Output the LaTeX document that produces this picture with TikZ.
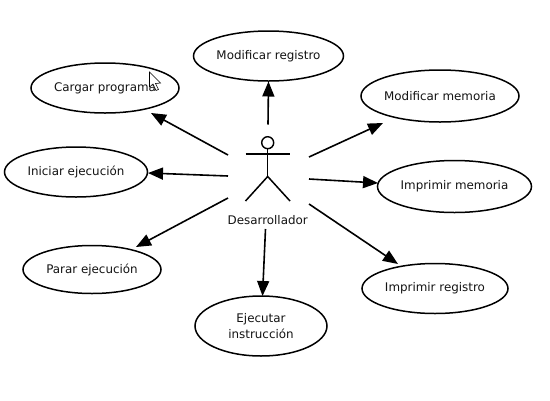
\documentclass[tikz,border=0pt]{standalone}
\usepackage{fontspec}
\setmainfont{DejaVu Sans}
\usetikzlibrary{shapes.geometric,arrows.meta}
\newcommand{\lowtext}[1]{\raisebox{-1pt}{#1}}
\tikzset{
  usecase/.style={ellipse,draw=black,line width=1.5pt,fill=white,inner sep=0pt,align=center,font=\fontsize{11.9}{15.5}\selectfont,text=black!92},
  assoc/.style={draw=black,line width=1.6pt,-{Triangle[length=15pt,width=12pt]}},
  stick/.style={draw=black,line width=1.5pt}
}
\begin{document}
\begin{tikzpicture}[x=1pt,y=-1pt]
\useasboundingbox (0,0) rectangle (550,400);
\fill[white] (0,0) rectangle (550,400);
\node[usecase,minimum width=150pt,minimum height=50pt] (mreg) at (268.5,56) {\lowtext{Modificar registro}};
\node[usecase,minimum width=148pt,minimum height=50pt] (carg) at (105,88) {\lowtext{Cargar programa}};
\node[usecase,minimum width=158pt,minimum height=52pt] (mmem) at (440,96) {\lowtext{Modificar memoria}};
\node[usecase,minimum width=143pt,minimum height=50pt] (inic) at (76,172) {\lowtext{Iniciar ejecución}};
\node[usecase,minimum width=154pt,minimum height=52pt] (imem) at (454.5,186.5) {\lowtext{Imprimir memoria}};
\node[usecase,minimum width=138pt,minimum height=48pt] (para) at (92,269.5) {\lowtext{Parar ejecución}};
\node[usecase,minimum width=146pt,minimum height=50pt] (ireg) at (435,288.5) {\lowtext{Imprimir registro}};
\node[usecase,minimum width=132pt,minimum height=60pt] (ejec) at (261,326) {\lowtext{Ejecutar}\\\lowtext{instrucción}};
% actor
\node[circle,draw=black,line width=1.4pt,minimum size=12pt,inner sep=0pt] (head) at (267.7,142.7) {};
\coordinate (hip) at (267.7,176.5);
\coordinate (armL) at (245.5,154);
\coordinate (armR) at (290,154);
\coordinate (legL) at (245.5,201);
\coordinate (legR) at (290,201);
\draw[stick] (head.south) -- (hip);
\draw[stick] (armL) -- (armR);
\draw[stick] (legL) -- (hip) -- (legR);
\node[font=\fontsize{11.9}{15}\selectfont,text=black!92,inner sep=0pt] (dev) at (267.7,220) {Desarrollador};
% connector ends
\coordinate (a1) at (268,124.5);
\coordinate (b1) at (268.5,81.5);
\coordinate (a2) at (228,155);
\coordinate (b2) at (151,113);
\coordinate (a3) at (228,176);
\coordinate (b3) at (148,173);
\coordinate (a4) at (228,198);
\coordinate (b4) at (136,247);
\coordinate (a5) at (265.5,229);
\coordinate (b5) at (262.5,296);
\coordinate (a6) at (309,204);
\coordinate (b6) at (398,264);
\coordinate (a7) at (309,179);
\coordinate (b7) at (378,183);
\coordinate (a8) at (309,157);
\coordinate (b8) at (383,123);
\foreach \i in {1,...,8} {\draw[assoc] (a\i) -- (b\i);}
% mouse pointer
\draw[black,fill=white,line width=0.6pt,line join=miter] (149.5,72) -- (149.5,87) -- (153,84) -- (156,90.5) -- (158.5,89.5) -- (155.5,83.5) -- (160.5,83) -- cycle;
\end{tikzpicture}
\end{document}
